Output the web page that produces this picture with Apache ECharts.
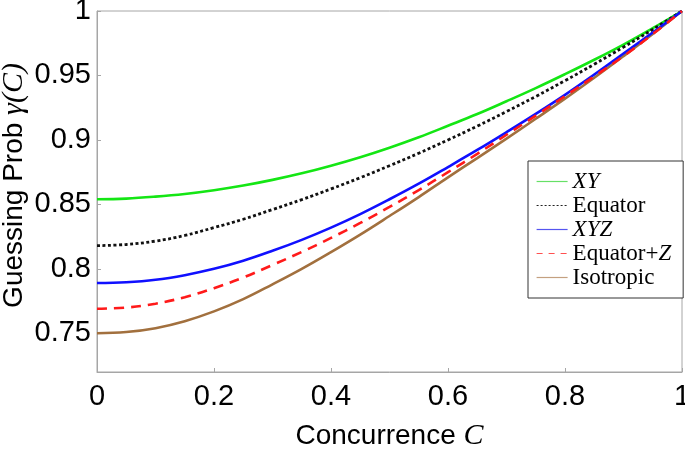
<!DOCTYPE html>
<html>
<head>
<meta charset="utf-8">
<script src="https://cdn.jsdelivr.net/npm/echarts@6/dist/echarts.min.js"></script>
<style>
html,body{margin:0;padding:0;background:#fff;}
#chart{width:685px;height:452px;}
</style>
</head>
<body>
<div id="chart"></div>
<script>
// Data read (estimated) from the reference picture, every 0.05 in C
var concurrence = [0, 0.05, 0.1, 0.15, 0.2, 0.25, 0.3, 0.35, 0.4, 0.45, 0.5,
                   0.55, 0.6, 0.65, 0.7, 0.75, 0.8, 0.85, 0.9, 0.95, 1];
var xyValues        = [0.854, 0.8545, 0.856, 0.8581, 0.861, 0.8646, 0.869, 0.8741, 0.880, 0.8866, 0.894,
                       0.9021, 0.911, 0.9201, 0.930, 0.9402, 0.951, 0.9622, 0.974, 0.9867, 1];
var equatorValues   = [0.818, 0.8189, 0.8215, 0.8259, 0.832, 0.8385, 0.846, 0.8537, 0.862, 0.8707, 0.880,
                       0.8897, 0.900, 0.9107, 0.922, 0.9337, 0.946, 0.9587, 0.972, 0.9857, 1];
var xyzValues       = [0.789, 0.7896, 0.7915, 0.7951, 0.800, 0.8063, 0.814, 0.8225, 0.832, 0.8425, 0.854,
                       0.8661, 0.879, 0.8922, 0.906, 0.9202, 0.935, 0.9507, 0.967, 0.9833, 1];
var equatorZValues  = [0.769, 0.770, 0.773, 0.778, 0.785, 0.7933, 0.803, 0.8131, 0.824, 0.8356, 0.848,
                       0.8611, 0.875, 0.8892, 0.904, 0.9188, 0.934, 0.9493, 0.965, 0.9821, 1];
var isotropicValues = [0.750, 0.751, 0.754, 0.7594, 0.767, 0.7765, 0.788, 0.800, 0.813, 0.8266, 0.841,
                       0.8557, 0.871, 0.8859, 0.901, 0.9164, 0.932, 0.9482, 0.965, 0.9822, 1];
var seriesNames = ['XY', 'Equator', 'XYZ', 'Equator+Z', 'Isotropic'];
var xTicks = [0, 0.2, 0.4, 0.6, 0.8, 1];
var yTicks = [0.75, 0.8, 0.85, 0.9, 0.95, 1];

function pairs(vals) {
  return concurrence.map(function (c, i) { return [c, vals[i]]; });
}

var chart = echarts.init(document.getElementById('chart'), null, {renderer: 'canvas'});
var sans = 'Liberation Sans, Arial, sans-serif';
var serif = 'Liberation Serif, Times New Roman, serif';
var axisGray = '#a6a6a6';

function lineSeries(name, vals, color, type, width, z) {
  return {
    name: name,
    type: 'line',
    data: pairs(vals),
    smooth: 0.4,
    symbol: 'none',
    z: z,
    lineStyle: {color: color, width: width, type: type},
    itemStyle: {color: color}
  };
}

var legendStyles = [
  {color: '#66e066', type: 'solid'},
  {color: '#222', type: [2, 2]},
  {color: '#5555f0', type: 'solid'},
  {color: '#ff5050', type: [6, 6]},
  {color: '#c4a080', type: 'solid'}
];

var option = {
  animation: false,
  backgroundColor: '#fff',
  grid: {left: 97, right: 3, top: 11, bottom: 80, show: true, borderColor: axisGray, borderWidth: 1,
         containLabel: false, outerBoundsMode: 'none'},
  xAxis: {
    type: 'value', min: 0, max: 1, interval: 0.2,
    name: '{a|Concurrence }{b|C}',
    nameLocation: 'middle', nameGap: 49, nameMoveOverlap: false,
    nameTextStyle: {rich: {
      a: {fontFamily: sans, fontSize: 28, color: '#000'},
      b: {fontFamily: serif, fontStyle: 'italic', fontSize: 30, color: '#000'}
    }},
    axisLine: {show: true, lineStyle: {color: axisGray, width: 1}},
    axisTick: {show: true, inside: true, length: 4, lineStyle: {color: axisGray}, customValues: xTicks},
    axisLabel: {fontFamily: sans, fontSize: 29, color: '#000', margin: 10, customValues: xTicks},
    splitLine: {show: false}
  },
  yAxis: {
    type: 'value', min: 0.72, max: 1,
    name: '{a|Guessing Prob }{b|γ(C)}',
    nameLocation: 'middle', nameGap: 68, nameMoveOverlap: false,
    nameTextStyle: {padding: [0, 0, 0, 12], rich: {
      a: {fontFamily: sans, fontSize: 28, color: '#000'},
      b: {fontFamily: serif, fontStyle: 'italic', fontSize: 30, color: '#000'}
    }},
    axisLine: {show: true, lineStyle: {color: axisGray, width: 1}},
    axisTick: {show: true, inside: true, length: 4, lineStyle: {color: axisGray}, customValues: yTicks},
    axisLabel: {fontFamily: sans, fontSize: 29, color: '#000', margin: 6, customValues: yTicks},
    splitLine: {show: false}
  },
  legend: {
    orient: 'vertical',
    left: 528, top: 161,
    padding: [9, 12, 9, 8],
    itemWidth: 31, itemHeight: 10, itemGap: 1,
    backgroundColor: '#fff',
    borderColor: '#333', borderWidth: 1,
    data: seriesNames.map(function (n, i) {
      return {
        name: n,
        itemStyle: {opacity: 0, color: 'transparent', borderWidth: 0},
        lineStyle: {width: 1.2, color: legendStyles[i].color, type: legendStyles[i].type, opacity: 1}
      };
    }),
    formatter: function (name) {
      if (name === 'XY') return '{i|XY}';
      if (name === 'XYZ') return '{i|XYZ}';
      if (name === 'Equator+Z') return '{n|Equator+}{i|Z}';
      return '{n|' + name + '}';
    },
    textStyle: {
      fontFamily: serif, fontSize: 23, color: '#000', lineHeight: 22,
      rich: {
        n: {fontFamily: serif, fontSize: 23, color: '#000', lineHeight: 22},
        i: {fontFamily: serif, fontStyle: 'italic', fontSize: 23, color: '#000', lineHeight: 22}
      }
    }
  },
  series: [
    lineSeries('Isotropic', isotropicValues, '#a2703e', 'solid', 2.6, 2),
    lineSeries('XY', xyValues, '#14e614', 'solid', 2.6, 3),
    lineSeries('Equator', equatorValues, '#111', [3, 2.5], 2.8, 4),
    lineSeries('XYZ', xyzValues, '#1010ff', 'solid', 2.6, 5),
    lineSeries('Equator+Z', equatorZValues, '#ff1a1a', [10, 7], 2.6, 6)
  ]
};
chart.setOption(option);
</script>
</body>
</html>
